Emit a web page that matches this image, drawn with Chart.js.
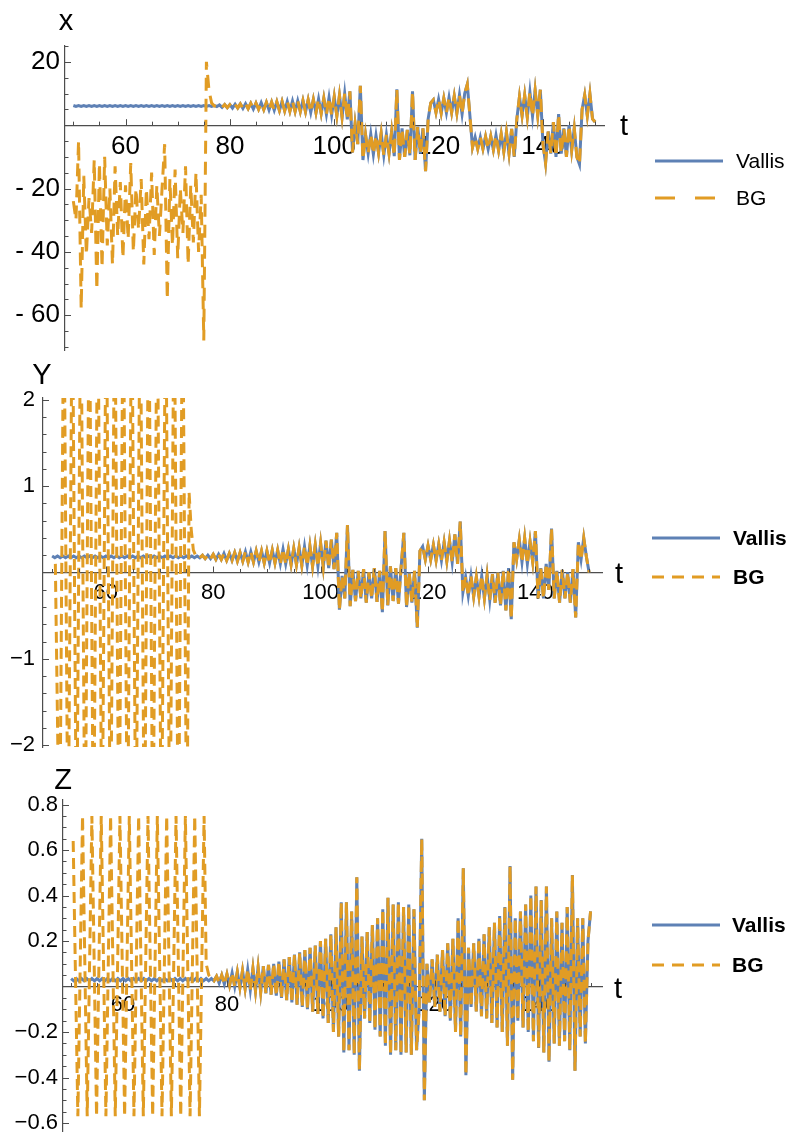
<!DOCTYPE html>
<html>
<head>
<meta charset="utf-8">
<script src="https://cdn.jsdelivr.net/npm/chart.js@4.4.1/dist/chart.umd.min.js"></script>
<style>
  body { margin: 0; background: #fff; width: 792px; height: 1133px; position: relative; overflow: hidden;
         font-family: "Liberation Sans", Arial, sans-serif; }
  canvas { position: absolute; left: 0; }
  .leg { position: absolute; font-size: 21px; line-height: 24px; color: #000; white-space: nowrap; }
  svg.key { position: absolute; }
</style>
</head>
<body>
<canvas id="cx" width="792" height="360" style="top:0px"></canvas>
<canvas id="cy" width="792" height="395" style="top:360px"></canvas>
<canvas id="cz" width="792" height="373" style="top:760px"></canvas>
<div id="legends"></div>
<script>
// ---- data ----
const seriesNames = ["Vallis", "BG"];
const xTicks = [60, 80, 100, 120, 140];
const yTicksX = [20, -20, -40, -60];
const yTicksY = [2, 1, -1, -2];
const yTicksZ = [0.8, 0.6, 0.4, 0.2, -0.2, -0.4, -0.6];

// Vallis, sampled every 0.5 from t = 50 to 150
const vallisStart = 50, vallisStep = 0.5;
const vallisX = [
  6.2,5.9,6.2,5.9,6.2,5.9,6.2,5.9,6.2,5.9,6.2,5.9,6.2,5.9,6.2,5.9,6.2,5.9,6.2,5.9,
  6.2,5.9,6.2,5.9,6.2,5.9,6.2,5.9,6.2,5.9,6.2,5.9,6.2,5.9,6.2,5.9,6.2,5.9,6.2,5.9,
  6.2,5.9,6.2,5.9,6.2,5.9,6.2,5.9,6.2,5.9,6.2,5.9,6.2,5.9,6.2,5.9,
  6.4,5.6,6.5,5.5,6.5,5.4,6.6,5.4,6.7,5.3,6.8,5.2,6.9,5.1,7.0,5.0,7.1,4.9,7.2,4.8,7.3,4.7,7.4,4.6,
  7.5,4.5,7.5,4.4,7.6,4.3,7.7,4.3,7.8,4.2,8.0,4.0,8.1,3.9,8.3,3.7,8.5,3.4,8.8,3.2,9.0,2.9,9.4,2.5,10.0,1.8,
  10.7,-8.6, 0.5,-6, 12.4,-11, -3,-9, -2.8,-9.2, -3.2,-8.8, -2.5,-9.5, -3,-9, -2,-9.8, 11.3,-11,
  -1,-10, -1.5,-9.5, 10.7,-11, -0.5,-9, -1,-14.5, 2,7, 8,4, 8.2,3.8, 8.5,3.9, 8.8,4,
  9.2,3.8, 9.6,3.5, 10,12.9, 3,-7, -3.8,-7.5, -3.8,-7.5, -3.6,-7.6, -3.5,-7.8, -3.2,-8, -2.8,-8.4,
  -2.2,-9, -1.2,-10, 2,9, 3,9.5, 2.5,10.5, 2.8,11, 3,11.2, -6,-12, -2,-9, 1,-10,
  3.5,-9, -1,-10, 0,-8, -1,-10, -12.4,5, 9.5,3, 9.8,2, 1
];
const vallisY = [
  0.19,0.17,0.19,0.17,0.19,0.17,0.19,0.17,0.19,0.17,0.19,0.17,0.19,0.17,0.19,0.17,0.19,0.17,0.19,0.17,
  0.19,0.17,0.19,0.17,0.19,0.17,0.19,0.17,0.19,0.17,0.19,0.17,0.19,0.17,0.19,0.17,0.19,0.17,0.19,0.17,
  0.19,0.17,0.19,0.17,0.19,0.17,0.19,0.17,0.19,0.17,0.19,0.17,0.19,0.17,0.19,0.17,
  0.2,0.16,0.2,0.16,0.21,0.15,0.21,0.15,0.22,0.14,0.22,0.14,0.23,0.13,0.23,0.13,0.24,0.12,0.24,0.12,0.25,0.12,0.25,0.11,
  0.25,0.11,0.26,0.11,0.26,0.1,0.27,0.1,0.27,0.09,0.28,0.09,0.29,0.08,0.3,0.08,0.31,0.07,0.32,0.07,0.34,0.06,0.37,0.05,0.38,0.04,
  0.46,-0.43, -0.04,-0.3, 0.55,-0.39, 0.03,-0.33, 0.02,-0.3, 0.04,-0.35, 0,-0.3, 0.05,-0.34, 0.02,-0.46, 0.48,-0.38,
  0.07,-0.33, 0.05,-0.36, 0.07,0.46, -0.4,0, -0.35,0.02, -0.64,0.25, 0.3,0.15, 0.31,0.15, 0.32,0.14, 0.33,0.14,
  0.35,0.13, 0.37,0.12, 0.44,0.1, 0.59,-0.23, -0.05,-0.27, -0.04,-0.28, -0.05,-0.28, -0.04,-0.3, -0.03,-0.32, -0.02,-0.35,
  0,-0.38, 0.02,-0.44, 0.05,-0.54, 0.35,0.15, 0.38,0.12, 0.4,0.1, 0.36,0.12, 0.48,-0.3, 0.05,-0.3, 0.1,-0.2,
  0.51,-0.3, 0.02,-0.35, 0.03,-0.3, 0,-0.35, 0.04,-0.52, 0.35,0.15, 0.4,0.18, 0
];
const vallisZ = [
  0.035,0.025,0.035,0.025,0.035,0.025,0.035,0.025,0.035,0.025,0.035,0.025,0.035,0.025,0.035,0.025,0.035,0.025,0.035,0.025,
  0.035,0.025,0.035,0.025,0.035,0.025,0.035,0.025,0.035,0.025,0.035,0.025,0.035,0.025,0.035,0.025,0.035,0.025,0.035,0.025,
  0.035,0.025,0.035,0.025,0.035,0.025,0.035,0.025,0.035,0.025,0.035,0.025,0.035,0.025,0.035,0.025,
  0.045,0.015,0.05,0.01,0.055,0.005,0.06,0,0.065,-0.005,0.07,-0.01,0.075,-0.015,0.08,-0.02,0.085,-0.025,0.09,-0.03,0.095,-0.035,0.1,-0.04,
  0.11,-0.05,0.12,-0.06,0.13,-0.07,0.14,-0.08,0.15,-0.09,0.16,-0.1,0.17,-0.11,0.18,-0.12,0.2,-0.14,0.21,-0.16,0.23,-0.2,0.26,-0.22,0.37,-0.29,
  0.37,-0.28, 0.33,-0.3, 0.48,-0.37, 0.22,-0.14, 0.24,-0.16, 0.27,-0.19, 0.3,-0.22, 0.34,-0.26, 0.39,-0.3, 0.36,-0.28,
  0.37,-0.3, 0.35,-0.29, 0.36,-0.3, 0.34,-0.28, -0.1,0.65,
  -0.5,0.1, -0.07,0.12, -0.09,0.14, -0.11,0.16, -0.13,0.19, -0.15,0.21, -0.2,0.3, -0.22,0.52, -0.39,0.17, -0.09,0.19,
  -0.11,0.21, -0.13,0.23, -0.14,0.26, -0.16,0.28, -0.18,0.31, -0.2,0.35, -0.26,0.53, -0.41,0.3, -0.15,0.33, -0.18,0.36,
  -0.2,0.4, -0.24,0.44, -0.27,0.38, -0.29,0.44, -0.33,0.3, -0.25,0.33, -0.26,0.28, -0.24,0.35, -0.28,0.49, -0.37,0.3,
  -0.22,0.3, -0.25,0.2, 0.33
];

// BG before it locks onto Vallis
const bgXStart = 50, bgXStep = 0.5;
const bgXEarly = [
  -24,-30,-5,-58,-16,-41,-23,-34,-11,-52,-12,-45,-10,-38,-20,-44,-13,-35,-18,-42,
  -19,-36,-12,-40,-20,-33,-17,-44,-20,-36,-15,-41,-19,-35,-20,-6,-55,-17,-38,-14,
  -42,-20,-34,-13,-44,-19,-37,-15,-40,-22,-68,20,11,7,6.1
];
const bgYStart = 50.6, bgYStep = 0.79;
const bgYEarly = [
  0.1,-3.5,3.5,-3.5,3.5,-3.5,3.5,-3.5,3.5,-3.5,3.5,-3.5,3.5,-3.5,3.5,-3.5,
  3.5,-3.5,3.5,-3.5,3.5,-3.5,3.5,-3.5,3.5,-3.5,3.5,-3.5,3.5,-3.5,3.5,-3.5
];
const bgYJoinStart = 75.5, bgYJoinStep = 0.4;
const bgYJoin = [0.93, 0.5, 0.26, 0.2];
const bgZStart = 50.4, bgZStep = 0.9;
const bgZEarly = [
  0.64,-0.57,0.75,-0.57,0.75,-0.57,0.75,-0.57,0.75,-0.57,0.75,-0.57,0.75,-0.57,0.75,
  -0.57,0.75,-0.57,0.75,-0.57,0.75,-0.57,0.75,-0.57,0.75,-0.57,0.75,-0.57,0.75
];
const bgZJoinStart = 76.0, bgZJoinStep = 0.5;
const bgZJoin = [0.1, 0.05];

// ---- drawing ----
const vallisColor = "#5E81B5";
const bgColor = "#E19C24";
const axisColor = "#4d4d4d";
const family = '"Liberation Sans", Arial, sans-serif';

function pts(t0, dt, vals) {
  return vals.map((v, i) => ({ x: +(t0 + i * dt).toFixed(3), y: v }));
}
function joinBG(parts, vallisPts) {
  const early = [].concat(...parts);
  const last = early[early.length - 1].x;
  return early.concat(vallisPts.filter(p => p.x > last));
}

const axisDecor = {
  id: "axisDecor",
  afterDraw(chart, args, o) {
    const { ctx, chartArea: ca } = chart;
    const xs = chart.scales.x, ys = chart.scales.y;
    const y0 = ys.getPixelForValue(0);
    ctx.save();
    ctx.strokeStyle = axisColor;
    ctx.lineWidth = 1;
    ctx.beginPath();
    for (let k = Math.ceil(xs.min / 5); k * 5 <= xs.max; k++) {
      const v = k * 5;
      const px = Math.round(xs.getPixelForValue(v)) + 0.5;
      const len = xTicks.includes(v) ? 6 : 3.5;
      ctx.moveTo(px, y0); ctx.lineTo(px, y0 - len);
    }
    for (let k = Math.ceil(ys.min / o.yMinor - 1e-9); k * o.yMinor <= ys.max + 1e-9; k++) {
      const v = +(k * o.yMinor).toFixed(4);
      if (v === 0) continue;
      const py = Math.round(ys.getPixelForValue(v)) + 0.5;
      const len = o.yMajor.includes(v) ? 6 : 3.5;
      ctx.moveTo(ca.left, py); ctx.lineTo(ca.left + len, py);
    }
    ctx.stroke();
    ctx.fillStyle = "#000";
    ctx.font = "29px " + family;
    ctx.textBaseline = "alphabetic";
    ctx.textAlign = "center";
    ctx.fillText(o.yName, ca.left + o.nameDx, ca.top - o.nameDy);
    ctx.textAlign = "left";
    ctx.fillText("t", ca.right + o.tDx, y0 + o.tDy);
    ctx.restore();
  }
};

function panel(id, p) {
  new Chart(document.getElementById(id), {
    type: "line",
    data: {
      datasets: [
        { label: seriesNames[1], data: p.bg, borderColor: bgColor, borderWidth: 3, borderDash: p.dash,
          pointRadius: 0, tension: 0, fill: false, order: 0 },
        { label: seriesNames[0], data: p.vallis, borderColor: vallisColor, borderWidth: 3,
          pointRadius: 0, tension: 0, fill: false, order: 1 }
      ]
    },
    options: {
      responsive: false,
      animation: false,
      events: [],
      layout: { padding: p.pad },
      plugins: {
        legend: { display: false },
        tooltip: { enabled: false },
        axisDecor: { yMinor: p.yMinor, yMajor: p.yTicks, yName: p.yName,
                     nameDx: p.nameDx, nameDy: p.nameDy, tDx: p.tDx, tDy: p.tDy }
      },
      scales: {
        x: {
          type: "linear", min: p.xMin, max: p.xMax, position: { y: 0 }, z: 1,
          grid: { drawOnChartArea: false, drawTicks: false },
          border: { color: axisColor, width: 1.2 },
          afterBuildTicks: s => { s.ticks = xTicks.map(v => ({ value: v })); },
          afterFit: s => { s.paddingLeft = 0; s.paddingRight = 0; },
          ticks: { font: { family, size: p.tickSize }, color: "#000", padding: p.xPad,
                   maxRotation: 0, autoSkip: false }
        },
        y: {
          type: "linear", min: p.yMin, max: p.yMax, z: 1,
          afterFit: s => { s.width = p.left; s.paddingTop = 0; s.paddingBottom = 0; },
          grid: { drawOnChartArea: false, drawTicks: false },
          border: { color: axisColor, width: 1.2 },
          afterBuildTicks: s => { s.ticks = p.yTicks.map(v => ({ value: v })); },
          ticks: { font: { family, size: p.tickSize }, color: "#000", padding: p.yPad,
                   autoSkip: false, callback: p.yFmt }
        }
      }
    },
    plugins: [axisDecor]
  });
}

const vX = pts(vallisStart, vallisStep, vallisX);
const vY = pts(vallisStart, vallisStep, vallisY);
const vZ = pts(vallisStart, vallisStep, vallisZ);

panel("cx", {
  vallis: vX,
  bg: joinBG([pts(bgXStart, bgXStep, bgXEarly)], vX),
  dash: [13, 8],
  xMin: 48.4, xMax: 151.7, yMin: -71, yMax: 25,
  yTicks: yTicksX, yMinor: 5,
  yFmt: v => v < 0 ? "- " + (-v) : String(v),
  tickSize: 26, xPad: 6, yPad: 5,
  left: 65, pad: { left: 0, right: 188, top: 46, bottom: 10 },
  yName: "x", nameDx: 1, nameDy: 16, tDx: 16, tDy: 10
});
panel("cy", {
  vallis: vY,
  bg: joinBG([pts(bgYStart, bgYStep, bgYEarly), pts(bgYJoinStart, bgYJoinStep, bgYJoin)], vY),
  dash: [11, 6],
  xMin: 48.3, xMax: 152.4, yMin: -2.02, yMax: 2.02,
  yTicks: yTicksY, yMinor: 0.2,
  yFmt: v => v < 0 ? "\u2212" + (-v) : String(v),
  tickSize: 22, xPad: 7, yPad: 8,
  left: 43, pad: { left: 0, right: 190, top: 38, bottom: 8 },
  yName: "Y", nameDx: -1, nameDy: 14, tDx: 13, tDy: 10.5
});
panel("cz", {
  vallis: vZ,
  bg: joinBG([pts(bgZStart, bgZStep, bgZEarly), pts(bgZJoinStart, bgZJoinStep, bgZJoin)], vZ),
  dash: [11, 6],
  xMin: 48.44, xMax: 152.2, yMin: -0.635, yMax: 0.82,
  yTicks: yTicksZ, yMinor: 0.05,
  yFmt: v => (v < 0 ? "\u2212" : "") + Math.abs(v).toFixed(1),
  tickSize: 22, xPad: 5, yPad: 5,
  left: 63, pad: { left: 0, right: 190, top: 40, bottom: 2 },
  yName: "Z", nameDx: 0, nameDy: 11, tDx: 12, tDy: 11
});

// legends
const legendSpecs = [
  { x1: 655, x2: 723, tx: 736, ys: [161, 198], bold: false, dash: "20 20" },
  { x1: 652, x2: 720, tx: 733, ys: [538, 577], bold: true, dash: "12 8" },
  { x1: 652, x2: 720, tx: 732, ys: [925, 965], bold: true, dash: "12 8" }
];
let html = "";
legendSpecs.forEach(s => {
  const w = s.x2 - s.x1;
  [[vallisColor, ""], [bgColor, s.dash]].forEach(([col, da], k) => {
    const y = s.ys[k];
    html += `<svg class="key" width="${w}" height="6" style="left:${s.x1}px;top:${y - 3}px">` +
            `<line x1="0" y1="3" x2="${w}" y2="3" stroke="${col}" stroke-width="3"` +
            (da ? ` stroke-dasharray="${da}"` : "") + `/></svg>` +
            `<div class="leg" style="left:${s.tx}px;top:${y - 12}px;font-weight:${s.bold ? 700 : 400}">${seriesNames[k]}</div>`;
  });
});
document.getElementById("legends").innerHTML = html;
</script>
</body>
</html>
